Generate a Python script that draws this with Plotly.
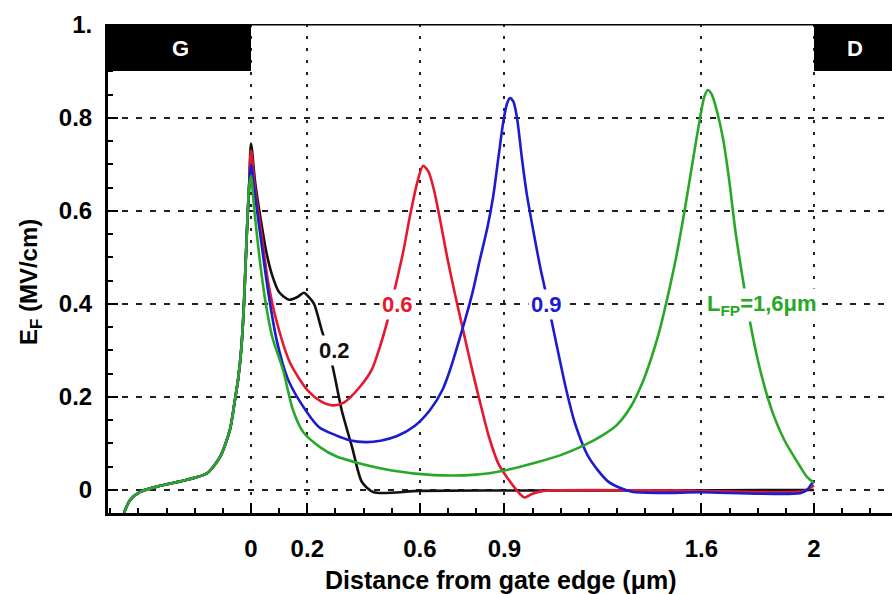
import plotly.graph_objects as go

# ---------------- data ----------------
# shared rising part left of the gate edge (all four curves overlap here)
left_x = [-0.451, -0.43, -0.394, -0.323, -0.227, -0.156, -0.11, -0.075, -0.057,
          -0.046, -0.035, -0.025, -0.015, -0.007]
left_y = [-0.049, -0.022, -0.004, 0.009, 0.022, 0.036, 0.071, 0.129, 0.194,
          0.237, 0.30, 0.40, 0.55, 0.65]

# L_FP = 0.2 um (black)
b_x = [0.0, 0.015, 0.035, 0.055, 0.075, 0.1, 0.135, 0.165, 0.188, 0.205, 0.224,
       0.251, 0.287, 0.322, 0.36, 0.394, 0.436, 0.6, 1.0, 1.5, 2.0]
b_y = [0.745, 0.66, 0.58, 0.51, 0.462, 0.425, 0.409, 0.415, 0.424, 0.415, 0.40,
       0.344, 0.273, 0.172, 0.09, 0.017, -0.005, -0.002, -0.001, -0.001, 0.0]

# L_FP = 0.6 um (red)
r_x = [0.0, 0.015, 0.035, 0.06, 0.09, 0.139, 0.2, 0.25, 0.29, 0.33, 0.387, 0.43,
       0.458, 0.483, 0.51, 0.54, 0.565, 0.59, 0.611, 0.63, 0.65, 0.672, 0.697,
       0.725, 0.753, 0.783, 0.813, 0.845, 0.88, 0.92, 0.95, 0.971, 1.0, 1.04,
       1.5, 1.96, 1.985, 2.0]
r_y = [0.73, 0.645, 0.56, 0.45, 0.365, 0.273, 0.215, 0.19, 0.182, 0.188, 0.222,
       0.26, 0.308, 0.36, 0.43, 0.51, 0.59, 0.66, 0.697, 0.685, 0.645, 0.58,
       0.50, 0.42, 0.345, 0.265, 0.19, 0.115, 0.055, 0.018, -0.005, -0.016,
       -0.008, -0.002, -0.001, -0.003, 0.004, 0.01]

# L_FP = 0.9 um (blue)
u_x = [0.0, 0.015, 0.035, 0.06, 0.092, 0.13, 0.174, 0.242, 0.3, 0.35, 0.408, 0.46,
       0.519, 0.58, 0.636, 0.68, 0.707, 0.753, 0.785, 0.813, 0.84, 0.86, 0.88,
       0.897, 0.91, 0.92, 0.932, 0.945, 0.962, 0.98, 1.005, 1.027, 1.045, 1.069,
       1.095, 1.12, 1.15, 1.2, 1.269, 1.353, 1.6, 1.95, 1.975, 1.99, 2.0]
u_y = [0.70, 0.63, 0.54, 0.43, 0.32, 0.24, 0.19, 0.135, 0.118, 0.107, 0.103, 0.106,
       0.116, 0.137, 0.172, 0.215, 0.258, 0.35, 0.42, 0.495, 0.565, 0.63, 0.72,
       0.795, 0.832, 0.843, 0.835, 0.80, 0.715, 0.635, 0.55, 0.48, 0.43, 0.36,
       0.285, 0.215, 0.145, 0.07, 0.018, -0.004, -0.005, -0.007, 0.0, 0.012, 0.02]

# L_FP = 1.6 um (green)
g_x = [0.0, 0.012, 0.03, 0.05, 0.075, 0.114, 0.149, 0.186, 0.25, 0.3, 0.38, 0.5,
       0.65, 0.8, 0.9, 1.006, 1.1, 1.186, 1.25, 1.3, 1.35, 1.39, 1.42, 1.45,
       1.478, 1.51, 1.54, 1.57, 1.595, 1.61, 1.623, 1.637, 1.655, 1.677, 1.70,
       1.72, 1.748, 1.773, 1.80, 1.83, 1.86, 1.894, 1.95, 1.975, 2.0]
g_y = [0.675, 0.6, 0.5, 0.41, 0.33, 0.258, 0.172, 0.124, 0.09, 0.073, 0.058, 0.042,
       0.032, 0.033, 0.042, 0.058, 0.075, 0.097, 0.118, 0.14, 0.18, 0.23, 0.28,
       0.34, 0.41, 0.50, 0.60, 0.71, 0.80, 0.845, 0.86, 0.85, 0.815, 0.755, 0.66,
       0.56, 0.45, 0.36, 0.28, 0.21, 0.155, 0.108, 0.051, 0.028, 0.015]

x_tickvals = [0, 0.2, 0.6, 0.9, 1.6, 2]
x_ticktext = ["0", "0.2", "0.6", "0.9", "1.6", "2"]
y_tickvals = [0, 0.2, 0.4, 0.6, 0.8, 1.0]
y_ticktext = ["0", "0.2", "0.4", "0.6", "0.8", "1."]

series = [
    ("0.2", b_x, b_y, "#111111"),
    ("0.6", r_x, r_y, "#e6182e"),
    ("0.9", u_x, u_y, "#1b1bd0"),
    ("1.6", g_x, g_y, "#27a827"),
]

FONT = "Liberation Sans, Arial, Helvetica, sans-serif"

fig = go.Figure()
for name, xs, ys, col in series:
    fig.add_trace(go.Scatter(
        x=left_x + xs, y=left_y + ys, mode="lines", name=name,
        line=dict(color=col, width=2.6, shape="spline", smoothing=0.7),
        hoverinfo="skip"))

axis_common = dict(
    showline=True, linewidth=3, linecolor="black",
    ticks="inside", ticklen=10, tickwidth=2, tickcolor="black",
    showgrid=True, gridcolor="#222222", gridwidth=2,
    zeroline=False,
    tickfont=dict(family=FONT, size=24, color="black", weight="bold"),
)

fig.update_layout(
    width=892, height=594,
    margin=dict(l=108, r=0, t=24, b=81),
    plot_bgcolor="white", paper_bgcolor="white",
    showlegend=False,
    xaxis=dict(range=[-0.508, 2.277], tickmode="array", tickvals=x_tickvals,
               ticktext=x_ticktext, griddash="3px,9px", ticklabelstandoff=12,
               minor=dict(ticks="inside", ticklen=5, tickwidth=2, tickcolor="black",
                          tick0=0, dtick=0.1, showgrid=False),
               **axis_common),
    yaxis=dict(range=[-0.0495, 1.002], tickmode="array", tickvals=y_tickvals,
               ticktext=y_ticktext, griddash="6px,8px", ticklabelstandoff=8,
               minor=dict(ticks="inside", ticklen=5, tickwidth=2, tickcolor="black",
                          tick0=0, dtick=0.05, showgrid=False),
               **axis_common),
)

# gate / drain blocks and top frame line
fig.add_shape(type="rect", xref="x", yref="y", x0=-0.508, x1=0.0, y0=0.901, y1=1.002,
              fillcolor="black", line=dict(width=0), layer="above")
fig.add_shape(type="rect", xref="x", yref="y", x0=2.0, x1=2.277, y0=0.901, y1=1.002,
              fillcolor="black", line=dict(width=0), layer="above")
fig.add_shape(type="line", xref="paper", yref="y", x0=0, x1=1, y0=1.002, y1=1.002,
              line=dict(color="black", width=3), layer="above")

fig.add_annotation(x=-0.252, y=0.95, xref="x", yref="y", text="G", showarrow=False,
                   font=dict(family=FONT, size=22, color="white", weight="bold"))
fig.add_annotation(x=2.146, y=0.95, xref="x", yref="y", text="D", showarrow=False,
                   font=dict(family=FONT, size=22, color="white", weight="bold"))

# curve labels
labels = [
    ("0.2", 0.298, 0.301, "#111111"),
    ("0.6", 0.519, 0.398, "#e6182e"),
    ("0.9", 1.051, 0.398, "#1b1bd0"),
    ("L<sub>FP</sub>=1,6μm", 1.815, 0.398, "#27a827"),
]
for txt, lx, ly, col in labels:
    fig.add_annotation(x=lx, y=ly, xref="x", yref="y", text=txt, showarrow=False,
                       bgcolor="white", borderpad=2,
                       font=dict(family=FONT, size=22, color=col, weight="bold"))

# axis titles
fig.add_annotation(x=0.5, y=-0.137, xref="paper", yref="paper", yanchor="middle",
                   text="Distance from gate edge (μm)", showarrow=False,
                   font=dict(family=FONT, size=25, color="black", weight="bold"))
fig.add_annotation(x=-0.122, y=0.472, xref="paper", yref="paper", textangle=-90,
                   text="E<sub>F</sub> (MV/cm)", showarrow=False,
                   font=dict(family=FONT, size=24, color="black", weight="bold"))

fig.write_html("out.html")
